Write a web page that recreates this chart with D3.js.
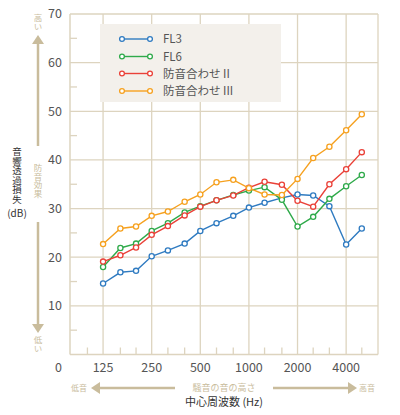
<!DOCTYPE html>
<html>
<head>
<meta charset="utf-8">
<script src="https://cdn.jsdelivr.net/npm/d3@7"></script>
<style>
  body { margin: 0; background: #fff; }
  svg text { font-family: "Noto Sans CJK JP", "Noto Sans", sans-serif; }
  .vert { writing-mode: vertical-rl; text-orientation: upright; }
</style>
</head>
<body>
<div id="chart"></div>
<script>
// third-octave band centre frequencies (Hz)
const freqs = [125, 160, 200, 250, 315, 400, 500, 630, 800, 1000, 1250, 1600, 2000, 2500, 3150, 4000, 5000];
const seriesNames = ['FL3', 'FL6', '防音合わせ II', '防音合わせ III'];
const fl3   = [14.6, 16.9, 17.2, 20.2, 21.4, 22.8, 25.4, 27.0, 28.5, 30.2, 31.2, 32.2, 32.9, 32.7, 30.5, 22.6, 25.9];
const fl6   = [18.0, 21.9, 22.8, 25.4, 27.0, 29.2, 30.5, 31.7, 32.8, 33.7, 34.4, 31.8, 26.3, 28.3, 32.0, 34.6, 36.9];
const bouon2 = [19.1, 20.4, 22.0, 24.6, 26.4, 28.6, 30.4, 31.7, 32.7, 34.3, 35.5, 34.9, 31.6, 30.4, 35.0, 38.1, 41.6];
const bouon3 = [22.7, 25.9, 26.3, 28.5, 29.4, 31.4, 32.9, 35.4, 35.9, 34.2, 32.9, 32.8, 36.1, 40.4, 42.7, 46.1, 49.4];
const xTickLabels = [125, 250, 500, 1000, 2000, 4000];
const minorFreqs = [100, 160, 200, 315, 400, 630, 800, 1250, 1600, 2500, 3150, 5000];
const yTicks = [10, 20, 30, 40, 50, 60, 70];
const yMinor = [5, 15, 25, 35, 45, 55, 65];

const colors = ['#2f7bc1', '#2faa4a', '#ea4138', '#f6a11f'];
const allSeries = [fl3, fl6, bouon2, bouon3];

const W = 400, H = 415;
const plotLeft = 70, plotRight = 378, plotTop = 14, plotBottom = 354.5;
const grid = '#ddd4bf';
const beige = '#c9bc9c';

const svg = d3.select('#chart').append('svg')
  .attr('width', W).attr('height', H);

const x = d3.scaleLog().base(2).domain([78, 6300]).range([plotLeft, plotRight]);
const y = d3.scaleLinear().domain([0, 70]).range([plotBottom, plotTop]);

// grid lines
const g = svg.append('g');
g.selectAll('.hgrid').data(yTicks).enter().append('line')
  .attr('x1', plotLeft).attr('x2', plotRight)
  .attr('y1', d => y(d)).attr('y2', d => y(d))
  .attr('stroke', grid).attr('stroke-width', 1.3);
g.selectAll('.vgrid').data(xTickLabels).enter().append('line')
  .attr('x1', d => x(d)).attr('x2', d => x(d))
  .attr('y1', plotTop).attr('y2', plotBottom)
  .attr('stroke', grid).attr('stroke-width', 1.3);
// frame
g.append('line').attr('x1', plotLeft).attr('x2', plotLeft).attr('y1', plotTop).attr('y2', plotBottom)
  .attr('stroke', grid).attr('stroke-width', 1.5);
g.append('line').attr('x1', plotRight).attr('x2', plotRight).attr('y1', plotTop).attr('y2', plotBottom)
  .attr('stroke', grid).attr('stroke-width', 1.3);
g.append('line').attr('x1', plotLeft).attr('x2', plotRight).attr('y1', plotBottom).attr('y2', plotBottom)
  .attr('stroke', grid).attr('stroke-width', 1.5);
// minor ticks
g.selectAll('.ymin').data(yMinor).enter().append('line')
  .attr('x1', plotLeft).attr('x2', plotLeft + 7)
  .attr('y1', d => y(d)).attr('y2', d => y(d))
  .attr('stroke', grid).attr('stroke-width', 1.3);
g.selectAll('.xmin').data(minorFreqs).enter().append('line')
  .attr('x1', d => x(d)).attr('x2', d => x(d))
  .attr('y1', plotBottom - 7).attr('y2', plotBottom)
  .attr('stroke', grid).attr('stroke-width', 1.3);

// y tick labels
svg.selectAll('.ylab').data(yTicks).enter().append('text')
  .attr('x', 62).attr('y', d => y(d)).attr('dy', '0.35em')
  .attr('text-anchor', 'end').attr('font-size', 12.5).attr('fill', '#555')
  .text(d => d);
svg.append('text').attr('x', 62).attr('y', 368).attr('dy', '0.35em')
  .attr('text-anchor', 'end').attr('font-size', 12.5).attr('fill', '#555').text('0');
// x tick labels
svg.selectAll('.xlab').data(xTickLabels).enter().append('text')
  .attr('x', d => x(d)).attr('y', 368).attr('dy', '0.35em')
  .attr('text-anchor', 'middle').attr('font-size', 12.5).attr('fill', '#555')
  .text(d => d);

// legend box
svg.append('rect').attr('x', 100).attr('y', 24).attr('width', 181).attr('height', 78)
  .attr('fill', '#f3f0eb');

// series
const line = d3.line().x((d, i) => x(freqs[i])).y(d => y(d));
allSeries.forEach((vals, k) => {
  svg.append('path').datum(vals)
    .attr('d', line).attr('fill', 'none')
    .attr('stroke', colors[k]).attr('stroke-width', 1.4);
  svg.selectAll('.pt' + k).data(vals).enter().append('circle')
    .attr('cx', (d, i) => x(freqs[i])).attr('cy', d => y(d))
    .attr('r', 2.6).attr('fill', '#fff')
    .attr('stroke', colors[k]).attr('stroke-width', 1.3);
});

// legend entries
const legY = [39, 56.5, 73.5, 91];
seriesNames.forEach((name, k) => {
  const ly = legY[k];
  svg.append('line').attr('x1', 122).attr('x2', 150).attr('y1', ly).attr('y2', ly)
    .attr('stroke', colors[k]).attr('stroke-width', 1.4);
  [122, 150].forEach(cx => svg.append('circle').attr('cx', cx).attr('cy', ly).attr('r', 2.4)
    .attr('fill', '#fff').attr('stroke', colors[k]).attr('stroke-width', 1.3));
  svg.append('text').attr('x', 163).attr('y', ly).attr('dy', '0.35em')
    .attr('font-size', 11.5).attr('fill', '#555').text(name);
});

// vertical text (one element, upright glyphs)
function vtext(str, cx, y0, size, color) {
  svg.append('text').attr('class', 'vert')
    .attr('x', cx).attr('y', y0)
    .attr('font-size', size).attr('fill', color)
    .text(str);
}

// left axis title
vtext('音響透過損失', 17, 147, 9.5, '#333');
svg.append('text').attr('x', 17).attr('y', 213).attr('dy', '0.35em')
  .attr('text-anchor', 'middle').attr('font-size', 10).attr('fill', '#333').text('(dB)');

// effect arrows
vtext('高い', 38, 14, 8.5, beige);
svg.append('line').attr('x1', 38).attr('x2', 38).attr('y1', 42).attr('y2', 146)
  .attr('stroke', beige).attr('stroke-width', 2.5);
svg.append('path').attr('d', 'M32,44 L38,35 L44,44 Z').attr('fill', beige);
vtext('防音効果', 38, 164, 8.5, beige);
svg.append('line').attr('x1', 38).attr('x2', 38).attr('y1', 222).attr('y2', 326)
  .attr('stroke', beige).attr('stroke-width', 2.5);
svg.append('path').attr('d', 'M32,324 L38,333 L44,324 Z').attr('fill', beige);
vtext('低い', 38, 336, 8.5, beige);

// bottom arrows
svg.append('text').attr('x', 79).attr('y', 388).attr('dy', '0.35em')
  .attr('text-anchor', 'middle').attr('font-size', 8).attr('fill', beige).text('低音');
svg.append('line').attr('x1', 98).attr('x2', 175).attr('y1', 388).attr('y2', 388)
  .attr('stroke', beige).attr('stroke-width', 2.5);
svg.append('path').attr('d', 'M100,382 L91,388 L100,394 Z').attr('fill', beige);
svg.append('text').attr('x', 224).attr('y', 388).attr('dy', '0.35em')
  .attr('text-anchor', 'middle').attr('font-size', 9).attr('fill', beige).text('騒音の音の高さ');
svg.append('line').attr('x1', 273).attr('x2', 350).attr('y1', 388).attr('y2', 388)
  .attr('stroke', beige).attr('stroke-width', 2.5);
svg.append('path').attr('d', 'M348,382 L357,388 L348,394 Z').attr('fill', beige);
svg.append('text').attr('x', 367).attr('y', 388).attr('dy', '0.35em')
  .attr('text-anchor', 'middle').attr('font-size', 8).attr('fill', beige).text('高音');

svg.append('text').attr('x', 224).attr('y', 402).attr('dy', '0.35em')
  .attr('text-anchor', 'middle').attr('font-size', 11).attr('fill', '#333').text('中心周波数 (Hz)');
</script>
</body>
</html>
